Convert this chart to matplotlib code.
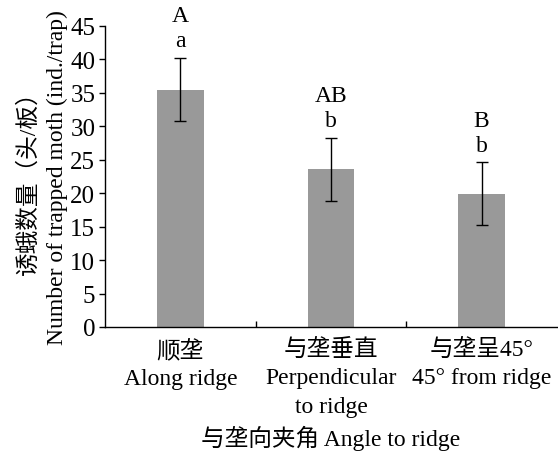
import matplotlib
matplotlib.use('Agg')
import matplotlib.pyplot as plt

plt.rcParams['font.family'] = ['Liberation Serif', 'Noto Sans CJK SC']
plt.rcParams['font.size'] = 17

# trap catch per orientation
categories = ['顺垄\nAlong ridge', '与垄垂直\nPerpendicular\nto ridge', '与垄呈45°\n45° from ridge']
means = [35.5, 23.6, 19.9]
errors = [4.7, 4.7, 4.7]
upper_letters = ['A', 'AB', 'B']
lower_letters = ['a', 'b', 'b']

fig = plt.figure(figsize=(5.58, 4.52), dpi=100)
ax = fig.add_axes([105 / 558, 1 - 328 / 452, 452 / 558, 301 / 452])

x = range(len(categories))
ax.bar(x, means, width=0.31, color='#999999', zorder=1)
ax.errorbar(x, means, yerr=errors, fmt='none', ecolor='black', elinewidth=1,
            capsize=4, capthick=1, zorder=2)

for i, (m, e) in enumerate(zip(means, errors)):
    ax.text(i, m + e + 2.6, lower_letters[i], ha='center', va='center', fontsize=17)
    ax.text(i, m + e + 6.3, upper_letters[i], ha='center', va='center', fontsize=17)

ax.set_xlim(-0.5, 2.5)
ax.set_ylim(0, 45)
ax.set_yticks(range(0, 46, 5))
ax.tick_params(axis='y', direction='out', length=4, width=1, pad=3, labelsize=18)

# category names sit between the inward ticks
ax.set_xticks([0.5, 1.5])
ax.set_xticklabels([])
ax.tick_params(axis='x', direction='in', length=4, width=1)
ax.set_xticks(list(x), minor=True)
ax.set_xticklabels(categories, minor=True, linespacing=1.45)
ax.tick_params(axis='x', which='minor', length=0, pad=8, labelsize=17)

for s in ['top', 'right']:
    ax.spines[s].set_visible(False)
for s in ['left', 'bottom']:
    ax.spines[s].set_linewidth(1)

ax.set_ylabel('诱蛾数量（头/板）\nNumber of trapped moth (ind./trap)', fontsize=17,
              linespacing=1.4, labelpad=2)
ax.set_xlabel('与垄向夹角 Angle to ridge', fontsize=17, labelpad=6)

fig.savefig('out.png', dpi=100)
